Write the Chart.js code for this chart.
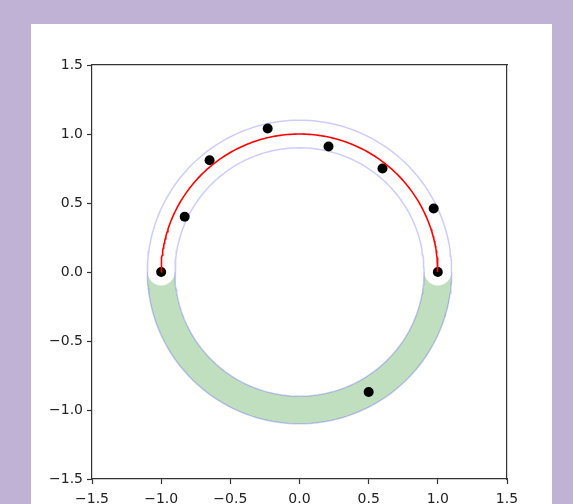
<!DOCTYPE html>
<html>
<head>
<meta charset="utf-8">
<script src="https://cdn.jsdelivr.net/npm/chart.js@4.4.1/dist/chart.umd.min.js"></script>
<style>
  html, body { margin: 0; padding: 0; background: #c0b2d4; width: 573px; height: 504px; overflow: hidden; }
  #panel { position: absolute; left: 31px; top: 24px; width: 521px; height: 480px; background: #ffffff; }
  #chart { position: absolute; left: 0; top: 0; }
</style>
</head>
<body>
<div id="panel"></div>
<canvas id="chart" width="573" height="504"></canvas>
<script>
// Observed samples
const sampleX = [-1.0, -0.83, -0.65, -0.23, 0.21, 0.60, 0.97, 1.0, 0.50];
const sampleY = [0.0, 0.40, 0.81, 1.04, 0.91, 0.75, 0.46, 0.0, -0.87];

// Unit arc and the tolerance band around it
const arcRadius = 1.0;
const bandRadii = [0.9, 1.1];
const endpointX = [-1.0, 1.0];
const endpointY = [0.0, 0.0];

// Axis ticks
const tickValues = [-1.5, -1.0, -0.5, 0.0, 0.5, 1.0, 1.5];
const tickLabels = ['\u22121.5', '\u22121.0', '\u22120.5', '0.0', '0.5', '1.0', '1.5'];

const STEPS = 180;
function arcPoints(r, a0, a1) {
  const pts = [];
  for (let i = 0; i <= STEPS; i++) {
    const a = a0 + (a1 - a0) * i / STEPS;
    pts.push({ x: r * Math.cos(a), y: r * Math.sin(a) });
  }
  return pts;
}

const redArc = arcPoints(arcRadius, Math.PI, 0);
const innerCircle = arcPoints(bandRadii[0], 0, 2 * Math.PI);
const outerCircle = arcPoints(bandRadii[1], 0, 2 * Math.PI);
// lower half of the band: outer edge left to right, inner edge back
const lowerBand = arcPoints(bandRadii[1], Math.PI, 2 * Math.PI)
  .concat(arcPoints(bandRadii[0], 2 * Math.PI, Math.PI));

const samplePts = sampleX.map((x, i) => ({ x, y: sampleY[i] }));
const endPts = endpointX.map((x, i) => ({ x, y: endpointY[i] }));

const axisColor = '#333333';
const fontSpec = { family: 'DejaVu Sans', size: 14 };

function fixedTicks(scale) {
  scale.ticks = tickValues.map(v => ({ value: v }));
}
function tickText(value) {
  const i = tickValues.findIndex(v => Math.abs(v - value) < 1e-9);
  return i >= 0 ? tickLabels[i] : '';
}

const mainAxis = (pos, size, pad) => ({
  type: 'linear',
  position: pos,
  min: -1.5,
  max: 1.5,
  afterBuildTicks: fixedTicks,
  afterFit: s => { if (pos === 'left') s.width = size; else s.height = size; },
  grid: { display: true, drawOnChartArea: false, drawTicks: true, tickLength: 5, tickColor: axisColor, tickWidth: 1.2 },
  border: { display: true, color: axisColor, width: 1.2 },
  ticks: { color: '#222222', font: fontSpec, padding: pad, callback: v => tickText(v), maxRotation: 0, autoSkip: false }
});

const frameAxis = (pos, axis) => ({
  type: 'linear',
  axis: axis,
  position: pos,
  min: -1.5,
  max: 1.5,
  afterFit: s => { if (pos === 'right') s.width = 0; else s.height = 0; },
  grid: { display: false },
  border: { display: true, color: axisColor, width: 1.2 },
  ticks: { display: false }
});

new Chart(document.getElementById('chart'), {
  type: 'scatter',
  data: {
    datasets: [
      {
        data: redArc, showLine: true, borderColor: '#ff0000', borderWidth: 1.6,
        pointRadius: 0, fill: false, order: 1
      },
      {
        data: samplePts, showLine: false, backgroundColor: '#000000', borderWidth: 0,
        pointRadius: 5, order: 2
      },
      {
        data: outerCircle, showLine: true, borderColor: 'rgba(0,0,255,0.2)', borderWidth: 1.5,
        pointRadius: 0, fill: false, order: 3
      },
      {
        data: innerCircle, showLine: true, borderColor: 'rgba(0,0,255,0.2)', borderWidth: 1.5,
        pointRadius: 0, fill: false, order: 3
      },
      {
        data: endPts, showLine: false, backgroundColor: '#ffffff', borderWidth: 0,
        pointRadius: 13.5, order: 4
      },
      {
        data: lowerBand, showLine: true, borderWidth: 0, borderColor: 'rgba(0,0,0,0)',
        backgroundColor: 'rgba(0,128,0,0.25)', pointRadius: 0, fill: 'shape', order: 5
      }
    ]
  },
  options: {
    responsive: false,
    animation: false,
    layout: { padding: { left: 0, top: 65, right: 66, bottom: 0 } },
    plugins: { legend: { display: false }, tooltip: { enabled: false } },
    elements: { line: { tension: 0 } },
    scales: {
      x: mainAxis('bottom', 25, 7),
      y: mainAxis('left', 92, 4),
      x2: frameAxis('top', 'x'),
      y2: frameAxis('right', 'y')
    }
  }
});
</script>
</body>
</html>
